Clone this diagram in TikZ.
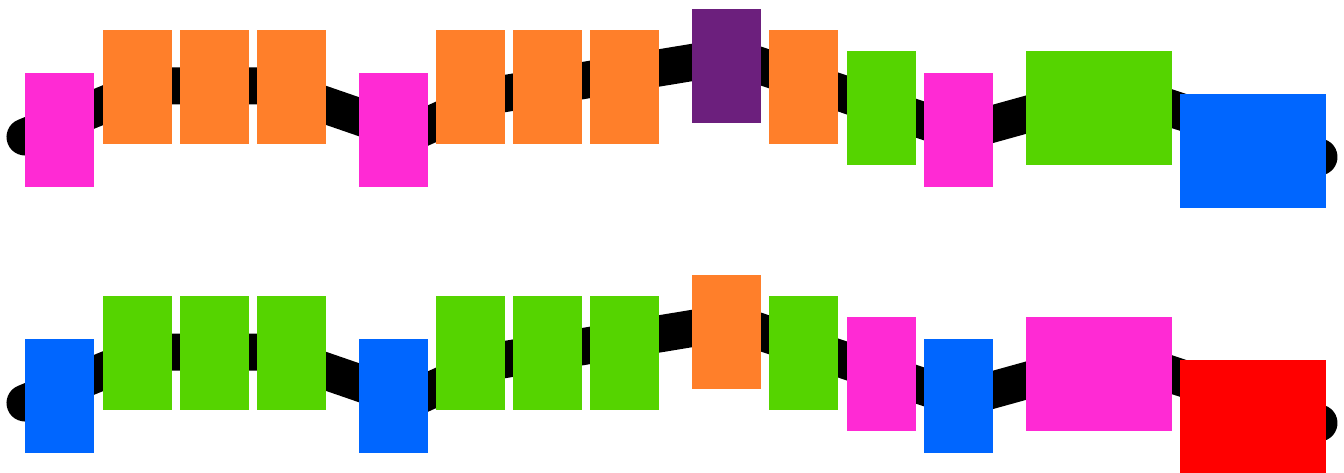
\documentclass[tikz,border=0pt]{standalone}
\usepackage{tikz}
\usetikzlibrary{positioning}
\usepackage{xcolor}
\definecolor{gpink}{HTML}{FF2AD4}
\definecolor{gorange}{HTML}{FF7F2A}
\definecolor{ggreen}{HTML}{55D400}
\definecolor{gpurple}{HTML}{6C1F7D}
\definecolor{gblue}{HTML}{0066FF}
\definecolor{gred}{HTML}{FF0000}

\begin{document}
\begin{tikzpicture}[x=1pt,y=-1pt,
  track/.style={line width=37pt,line cap=round,line join=round},
  blk/.style={fill=#1,inner sep=0pt,minimum width=69pt,minimum height=114pt},
  wideblk/.style={blk=#1,minimum width=146pt}]
\useasboundingbox (0,0) rectangle (1344,473);
% the two tracks
\foreach \dy in {0,266}{
  \begin{scope}[yshift=-\dy pt]
  \draw[track] (25,137) -- (150,86) -- (270,86) -- (409,134) -- (496,95) -- (731,56) -- (960,133) -- (1115,90) -- (1319,157);
  \end{scope}
}
% top row
\node[blk=gpink] (t1) at (59.5,130) {};
\node[blk=gorange] (t2) at (137.5,87) {};
\node[blk=gorange] (t3) at (214.5,87) {};
\node[blk=gorange] (t4) at (291.5,87) {};
\node[blk=gpink] (t5) at (393.5,130) {};
\node[blk=gorange] (t6) at (470.5,87) {};
\node[blk=gorange] (t7) at (547.5,87) {};
\node[blk=gorange] (t8) at (624.5,87) {};
\node[blk=gpurple] (t9) at (726.5,66) {};
\node[blk=gorange] (t10) at (803.5,87) {};
\node[blk=ggreen] (t11) at (881.5,108) {};
\node[blk=gpink] (t12) at (958.5,130) {};
\node[wideblk=ggreen] (t13) at (1099,108) {};
\node[wideblk=gblue] (t14) at (1253,151) {};
% bottom row
\node[blk=gblue] (b1) at (59.5,396) {};
\node[blk=ggreen] (b2) at (137.5,353) {};
\node[blk=ggreen] (b3) at (214.5,353) {};
\node[blk=ggreen] (b4) at (291.5,353) {};
\node[blk=gblue] (b5) at (393.5,396) {};
\node[blk=ggreen] (b6) at (470.5,353) {};
\node[blk=ggreen] (b7) at (547.5,353) {};
\node[blk=ggreen] (b8) at (624.5,353) {};
\node[blk=gorange] (b9) at (726.5,332) {};
\node[blk=ggreen] (b10) at (803.5,353) {};
\node[blk=gpink] (b11) at (881.5,374) {};
\node[blk=gblue] (b12) at (958.5,396) {};
\node[wideblk=gpink] (b13) at (1099,374) {};
\node[wideblk=gred] (b14) at (1253,417) {};
\end{tikzpicture}
\end{document}
